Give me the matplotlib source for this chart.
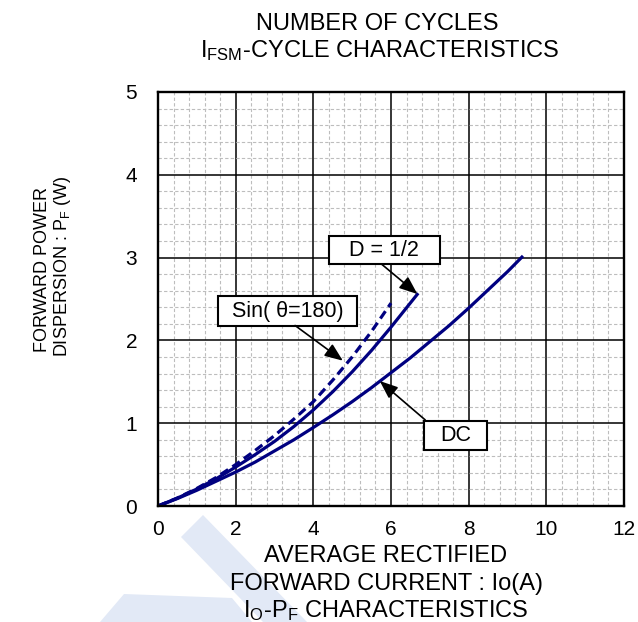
import matplotlib
matplotlib.use('Agg')
import matplotlib.pyplot as plt
from matplotlib.patches import Rectangle, Polygon
from matplotlib.ticker import MultipleLocator

plt.rcParams['font.family'] = ['Liberation Sans', 'DejaVu Sans']
plt.rcParams['mathtext.fontset'] = 'custom'
plt.rcParams['mathtext.rm'] = 'Liberation Sans'
plt.rcParams['mathtext.it'] = 'Liberation Sans:italic'
plt.rcParams['mathtext.bf'] = 'Liberation Sans:bold'

# ---------------- data ----------------
io_dc = [0, 0.5, 1, 1.5, 2, 2.5, 3, 3.5, 4, 4.5, 5, 5.5, 6, 6.5, 7, 7.5, 8, 8.5, 9, 9.4]
pf_dc = [0, 0.09, 0.19, 0.30, 0.41, 0.53, 0.665, 0.80, 0.948, 1.10, 1.26, 1.43,
         1.61, 1.79, 1.985, 2.18, 2.39, 2.61, 2.83, 3.02]

io_half = [0, 0.5, 1, 1.5, 2, 2.5, 3, 3.5, 4, 4.5, 5, 5.5, 6, 6.7]
pf_half = [0, 0.095, 0.205, 0.33, 0.47, 0.62, 0.78, 0.96, 1.16, 1.38, 1.62, 1.88, 2.16, 2.57]

io_sin = [0, 0.5, 1, 1.5, 2, 2.5, 3, 3.5, 4, 4.5, 5, 5.5, 6]
pf_sin = [0, 0.097, 0.212, 0.345, 0.5, 0.67, 0.85, 1.05, 1.26, 1.52, 1.8, 2.11, 2.45]

x_ticks = [0, 2, 4, 6, 8, 10, 12]
y_ticks = [0, 1, 2, 3, 4, 5]

title_lines = ["NUMBER OF CYCLES", r"I$_{\mathrm{FSM}}$-CYCLE CHARACTERISTICS"]
xlabel_lines = ["AVERAGE RECTIFIED", "FORWARD CURRENT : Io(A)",
                r"I$_{\mathrm{O}}$-P$_{\mathrm{F}}$ CHARACTERISTICS"]
ylabel_lines = ["FORWARD POWER", r"DISPERSION : P$_{\mathrm{F}}$ (W)"]
annot_labels = ["D = 1/2", "Sin( θ=180)", "DC"]

# ---------------- figure ----------------
W, H = 638, 622
fig = plt.figure(figsize=(W / 100, H / 100), dpi=100)
fig.patch.set_facecolor('white')


def fx(px):
    return px / W


def fy(py):
    return 1 - py / H


ax = fig.add_axes([fx(158), fy(506), 466 / W, 414 / H])

# watermark shapes (light blue)
wm_color = '#e2e9f6'
for pts in ([(181, 537), (203, 515), (307, 622), (263, 622)],
            [(100, 622), (124, 594), (232, 598), (252, 622)]):
    poly = Polygon([(fx(a), fy(b)) for a, b in pts], closed=True,
                   transform=fig.transFigure, facecolor=wm_color,
                   edgecolor='none', zorder=0.5)
    fig.add_artist(poly)

navy = '#000080'
ax.plot(io_dc, pf_dc, color=navy, lw=2.3, solid_capstyle='butt', zorder=4)
ax.plot(io_half, pf_half, color=navy, lw=2.3, solid_capstyle='butt', zorder=4)
ax.plot(io_sin, pf_sin, color=navy, lw=2.3, ls=(0, (2.8, 1.6)), zorder=4)

ax.set_xlim(0, 12)
ax.set_ylim(0, 5)
ax.set_xticks(x_ticks)
ax.set_yticks(y_ticks)
ax.set_xticklabels([str(v) for v in x_ticks])
ax.set_yticklabels([str(v) for v in y_ticks])
ax.xaxis.set_minor_locator(MultipleLocator(0.4))
ax.yaxis.set_minor_locator(MultipleLocator(0.2))
ax.tick_params(which='both', length=0)
ax.tick_params(axis='x', labelsize=15, pad=10)
ax.tick_params(axis='y', labelsize=15, pad=15)
ax.set_axisbelow(True)
ax.grid(which='minor', color='#bdbdbd', lw=0.8, ls=(0, (3, 2)))
ax.grid(which='major', color='black', lw=1.1, ls='-')
for s in ax.spines.values():
    s.set_linewidth(1.7)
    s.set_color('black')
    s.set_zorder(6)

# annotation boxes (data coords) + arrows
boxes = [
    (4.40, 2.92, 7.26, 3.26, annot_labels[0], (5.76, 2.92), (6.68, 2.56)),
    (1.545, 2.174, 5.125, 2.536, annot_labels[1], (3.53, 2.18), (4.76, 1.755)),
    (6.85, 0.676, 8.47, 1.027, annot_labels[2], (6.88, 1.04), (5.71, 1.51)),
]
for x0, y0, x1, y1, txt, start, tip in boxes:
    ax.add_patch(Rectangle((x0, y0), x1 - x0, y1 - y0, facecolor='white',
                           edgecolor='black', lw=1.5, zorder=7))
    ax.text((x0 + x1) / 2, (y0 + y1) / 2, txt, ha='center', va='center',
            fontsize=15.5, zorder=8)
    ax.annotate('', xy=tip, xytext=start,
                arrowprops=dict(arrowstyle='-|>,head_length=0.55,head_width=0.22',
                                mutation_scale=20, lw=1.2, color='black',
                                shrinkA=0, shrinkB=0), zorder=7)

# titles / labels
fig.text(fx(377), fy(30), title_lines[0], ha='center', va='baseline', fontsize=17)
fig.text(fx(380), fy(57), title_lines[1], ha='center', va='baseline', fontsize=17)
for py, line in zip([562, 590, 617], xlabel_lines):
    fig.text(fx(386), fy(py), line, ha='center', va='baseline', fontsize=17)
fig.text(fx(47), fy(270), ylabel_lines[0], ha='center', va='baseline',
         rotation=90, rotation_mode='anchor', fontsize=13)
fig.text(fx(67), fy(266), ylabel_lines[1], ha='center', va='baseline',
         rotation=90, rotation_mode='anchor', fontsize=13)

fig.savefig('out.png', dpi=100)
